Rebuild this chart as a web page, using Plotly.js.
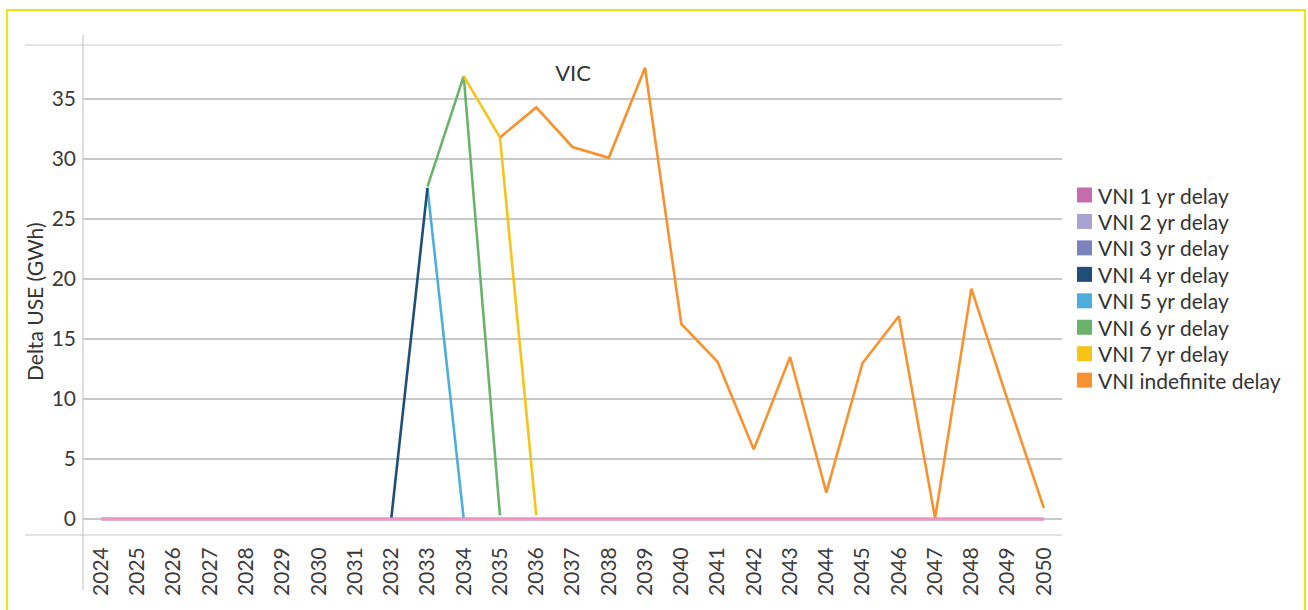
<!DOCTYPE html>
<html>
<head>
<meta charset="utf-8">
<script src="https://cdn.plot.ly/plotly-3.0.1.min.js"></script>
<style>
  html, body { margin: 0; padding: 0; background: #fff; overflow: hidden; }
  #wrap { position: relative; width: 1308px; height: 610px; }
  #chart { width: 1308px; height: 610px; }
  #frame { position: absolute; left: 6px; top: 9px; width: 1296px; height: 640px;
           border: 2px solid #ece60e; pointer-events: none; }
</style>
</head>
<body>
<div id="wrap">
  <div id="chart"></div>
  <div id="frame"></div>
</div>
<script>
// ---- data ----
const years = ['2024','2025','2026','2027','2028','2029','2030','2031','2032','2033','2034','2035','2036','2037','2038','2039','2040','2041','2042','2043','2044','2045','2046','2047','2048','2049','2050'];

const vni1yr = [0,0,0,0,0,0,0,0,0,0,0,0,0,0,0,0,0,0,0,0,0,0,0,0,0,0,0];
const vni2yr = [0,0,0,0,0,0,0,0,0,0,0,0,0,0,0,0,0,0,0,0,0,0,0,0,0,0,0];
const vni3yr = [0,0,0,0,0,0,0,0,0,0,0,0,0,0,0,0,0,0,0,0,0,0,0,0,0,0,0];
const vni4yr = [null,null,null,null,null,null,null,null,0,27.6,null,null,null,null,null,null,null,null,null,null,null,null,null,null,null,null,null];
const vni5yr = [null,null,null,null,null,null,null,null,null,27.6,0,null,null,null,null,null,null,null,null,null,null,null,null,null,null,null,null];
const vni6yr = [null,null,null,null,null,null,null,null,null,27.7,36.9,0.3,null,null,null,null,null,null,null,null,null,null,null,null,null,null,null];
const vni7yr = [null,null,null,null,null,null,null,null,null,null,36.9,31.8,0.3,null,null,null,null,null,null,null,null,null,null,null,null,null,null];
const vniIndef = [null,null,null,null,null,null,null,null,null,null,null,31.8,34.3,31.0,30.1,37.6,16.25,13.1,5.8,13.5,2.2,13.0,16.9,0.05,19.2,9.9,0.9];

const seriesNames = ['VNI 1 yr delay','VNI 2 yr delay','VNI 3 yr delay','VNI 4 yr delay','VNI 5 yr delay','VNI 6 yr delay','VNI 7 yr delay','VNI indefinite delay'];
const seriesValues = [vni1yr, vni2yr, vni3yr, vni4yr, vni5yr, vni6yr, vni7yr, vniIndef];
const swatchColors = ['#c66dad','#a9a3d1','#7a83bc','#1f4e79','#4eaedb','#69b36d','#f5c417','#f7922e'];
const lineColors   = ['#f096c2','#a9a3d1','#7a83bc','#1f4e79','#4eaedb','#69b36d','#f5c417','#f7922e'];

// ---- traces (draw order: others first, 1 yr delay last so it sits on top at zero) ----
const drawOrder = [1,2,4,3,5,6,7,0];
const traces = drawOrder.map(i => ({
  type: 'scatter', mode: 'lines', name: seriesNames[i],
  x: years, y: seriesValues[i],
  line: { color: lineColors[i], width: i === 0 ? 3 : 2.6 },
  connectgaps: false, showlegend: false, hoverinfo: 'x+y+name'
}));

// ---- geometry ----
const W = 1308, H = 610;
const mL = 83, mR = 1308 - 1062, mT = 45, mB = 610 - 535;
const pw = W - mL - mR, ph = H - mT - mB;
const px2x = px => (px - mL) / pw;
const py2y = py => (H - mB - py) / ph;

const shapes = [
  { type: 'line', xref: 'paper', yref: 'paper', x0: px2x(25), x1: 1, y0: 1, y1: 1, line: { color: '#c8c8c8', width: 1.2 } },
  { type: 'line', xref: 'paper', yref: 'paper', x0: px2x(25), x1: 1, y0: 0, y1: 0, line: { color: '#c8c8c8', width: 1.2 } },
  { type: 'line', xref: 'paper', yref: 'paper', x0: 0, x1: 0, y0: py2y(590), y1: py2y(35), line: { color: '#c8c8c8', width: 1.2 } }
];

const annotations = [];
// y axis title
annotations.push({ xref: 'paper', yref: 'paper', x: px2x(34), y: py2y(302),
  xanchor: 'center', yanchor: 'middle', textangle: -90, showarrow: false,
  text: 'Delta USE (GWh)', font: { family: 'Lato, sans-serif', size: 21, color: '#333' } });

// custom legend (square swatches, tight rows)
const legTop = 195, legStep = 26.45;
seriesNames.forEach((nm, i) => {
  const yc = legTop + i * legStep;
  shapes.push({ type: 'rect', xref: 'paper', yref: 'paper',
    x0: px2x(1077), x1: px2x(1092), y0: py2y(yc + 7.5), y1: py2y(yc - 7.5),
    fillcolor: swatchColors[i], line: { width: 0 } });
  annotations.push({ xref: 'paper', yref: 'paper', x: px2x(1096), y: py2y(yc),
    xanchor: 'left', yanchor: 'middle', showarrow: false, text: nm,
    font: { family: 'Lato, sans-serif', size: 21, color: '#333' } });
});

const layout = {
  width: W, height: H,
  margin: { l: mL, r: mR, t: mT, b: mB, pad: 0 },
  paper_bgcolor: '#fff', plot_bgcolor: '#fff',
  font: { family: 'Lato, sans-serif', color: '#3a3a3a' },
  showlegend: false,
  title: { text: 'VIC', x: 573 / W, xanchor: 'center', xref: 'container',
           y: 1 - 73 / H, yanchor: 'middle', yref: 'container',
           font: { family: 'Lato, sans-serif', size: 22, color: '#333' } },
  xaxis: {
    type: 'category', categoryorder: 'array', categoryarray: years,
    range: [-0.5, years.length - 0.5],
    tickangle: -90, ticks: '', showgrid: false, zeroline: false, showline: false,
    tickfont: { family: 'Lato, sans-serif', size: 21, color: '#3a3a3a' },
    ticklabelstandoff: 7, fixedrange: true
  },
  yaxis: {
    range: [-1.333, 39.5],
    tickvals: [0,5,10,15,20,25,30,35], ticktext: ['0','5','10','15','20','25','30','35'],
    ticks: '', showgrid: true, gridcolor: '#c8c8c8', gridwidth: 1.2,
    zeroline: false, showline: false,
    tickfont: { family: 'Lato, sans-serif', size: 21, color: '#3a3a3a' },
    ticklabelstandoff: 6,
    fixedrange: true
  },
  shapes: shapes,
  annotations: annotations
};

Plotly.newPlot('chart', traces, layout, { displayModeBar: false, staticPlot: true });
</script>
</body>
</html>
